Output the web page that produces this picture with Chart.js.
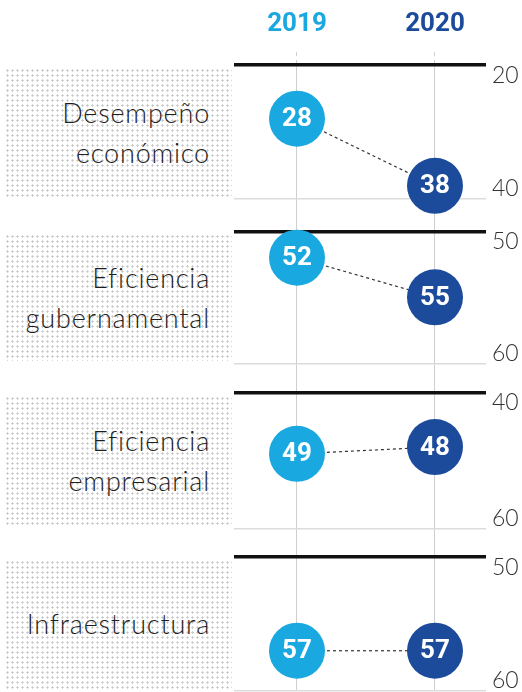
<!DOCTYPE html>
<html>
<head>
<meta charset="utf-8">
<script src="https://cdn.jsdelivr.net/npm/chart.js@4.4.1/dist/chart.umd.min.js"></script>
<style>
  html, body { margin: 0; padding: 0; background: #fff; }
  #wrap { position: relative; width: 522px; height: 692px; overflow: hidden; }
  #chart { position: absolute; left: 0; top: 0; }
  .lbl {
    position: absolute; left: 5px; width: 227px; box-sizing: border-box;
    display: flex; align-items: center; justify-content: flex-end;
    padding-right: 22px; text-align: right;
    font-family: "Lato Light", Lato, "Open Sans", sans-serif; font-weight: 300;
    font-size: 27px; letter-spacing: 0.8px; line-height: 40px; color: #1e1e1e;
    background-image: radial-gradient(circle, #c6c6c6 0.9px, transparent 1.3px);
    background-size: 5px 5px;
  }
</style>
</head>
<body>
<div id="wrap">
  <canvas id="chart" width="522" height="692"></canvas>
</div>
<script>
const YEARS = ["2019", "2020"];
const YEAR_COLORS = ["#1aa8e0", "#1d4b9b"];
const CATEGORIES = [
  ["Desempeño", "económico"],
  ["Eficiencia", "gubernamental"],
  ["Eficiencia", "empresarial"],
  ["Infraestructura"],
];
const RANK_2019 = [28, 52, 49, 57];
const RANK_2020 = [38, 55, 48, 57];
const AXIS_MIN = [20, 50, 40, 50];
const AXIS_MAX = [40, 60, 60, 60];
const AXIS_STEP = [10, 5, 10, 5];

// layout: heights of panels and of the gaps between them
const PANEL_H = [134, 132, 136, 134];
const GAP_H = [32, 29, 28];

const scales = {
  x: {
    type: "linear",
    position: "top",
    min: -0.4565,
    max: 1.3696,
    afterBuildTicks: (s) => { s.ticks = YEARS.map((_, i) => ({ value: i })); },
    afterFit: (s) => { s.height = 65; },
    border: { display: false },
    grid: {
      color: "#cfcfcf",
      lineWidth: 1,
      borderDash: [4, 4],
      tickBorderDash: [4, 4],
      tickLength: 13,
    },
    ticks: {
      padding: 12,
      color: (c) => YEAR_COLORS[c.index],
      font: { family: "Roboto", weight: "bold", size: 26 },
      callback: (v) => YEARS[v],
    },
  },
};

const datasets = [];
PANEL_H.forEach((h, i) => {
  const min = AXIS_MIN[i];
  const max = AXIS_MAX[i];
  scales["y" + i] = {
    type: "linear",
    position: "right",
    stack: "panels",
    stackWeight: h,
    reverse: true,
    min: min,
    max: max,
    afterFit: (s) => {
      s.width = 36;
      s.paddingTop = 0;
      s.paddingBottom = 0;
    },
    border: { display: false },
    grid: {
      drawTicks: false,
      color: (c) => (c.tick.value === min ? "#111" : "#dcdcdc"),
      lineWidth: (c) => (c.tick.value === min ? 3.5 : 1.5),
    },
    ticks: {
      stepSize: AXIS_STEP[i],
      padding: 6,
      color: "#333",
      font: { family: "Lato", weight: 300, size: 23, lineHeight: 0.9 },
      callback: (v) => {
        if (v === min) return ["", String(v)];
        if (v === max) return [String(v), ""];
        return "";
      },
    },
  };
  if (i < GAP_H.length) {
    scales["gap" + i] = {
      type: "linear",
      position: "right",
      stack: "panels",
      stackWeight: GAP_H[i],
      display: false,
    };
  }
  datasets.push({
    label: CATEGORIES[i].join(" "),
    data: [
      { x: 0, y: RANK_2019[i] },
      { x: 1, y: RANK_2020[i] },
    ],
    yAxisID: "y" + i,
    borderColor: "#333",
    borderWidth: 1.2,
    borderDash: [3, 3],
    pointRadius: 28,
    pointHoverRadius: 28,
    pointBorderWidth: 0,
    pointBackgroundColor: YEAR_COLORS,
    clip: false,
  });
});

const valueLabels = {
  id: "valueLabels",
  afterDatasetsDraw(chart) {
    const ctx = chart.ctx;
    ctx.save();
    ctx.fillStyle = "#fff";
    ctx.font = "bold 26px Roboto";
    ctx.textAlign = "center";
    ctx.textBaseline = "middle";
    chart.data.datasets.forEach((ds, i) => {
      chart.getDatasetMeta(i).data.forEach((pt, j) => {
        ctx.fillText(String(ds.data[j].y), pt.x, pt.y + 1);
      });
    });
    ctx.restore();
  },
};

const chart = new Chart(document.getElementById("chart"), {
  type: "line",
  data: { datasets: datasets },
  options: {
    responsive: false,
    animation: false,
    layout: { autoPadding: false, padding: { left: 234, right: 0, top: 0, bottom: 1 } },
    scales: scales,
    plugins: { legend: { display: false }, tooltip: { enabled: false } },
  },
  plugins: [valueLabels],
});

// category labels on dotted boxes, placed from each panel's scale
const wrap = document.getElementById("wrap");
CATEGORIES.forEach((lines, i) => {
  const s = chart.scales["y" + i];
  const div = document.createElement("div");
  div.className = "lbl";
  div.style.top = s.top + 3 + "px";
  div.style.height = s.bottom - s.top - 5 + "px";
  div.innerHTML = lines.join("<br>");
  wrap.insertBefore(div, wrap.firstChild);
});
</script>
</body>
</html>
